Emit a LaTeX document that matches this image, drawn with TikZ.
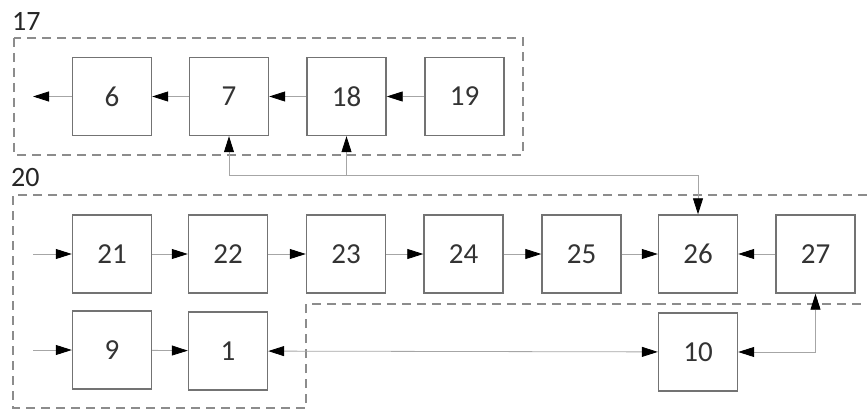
\documentclass[tikz,border=0pt]{standalone}
\usepackage{fontspec}
\setmainfont{Carlito}
\usetikzlibrary{arrows.meta}
\begin{document}
\begin{tikzpicture}[x=1pt,y=-1pt,
  >={Triangle[length=16pt,width=10pt,color=black]},
  blk/.style={draw=black!55, line width=1.4pt, minimum width=79pt, minimum height=78pt, inner sep=0pt, font=\fontsize{29}{29}\selectfont, text=black!80},
  conn/.style={draw=black!35, line width=0.8pt, ->},
  wire/.style={draw=black!35, line width=0.8pt},
  grp/.style={draw=black!45, line width=1.4pt, dash pattern=on 9pt off 6pt},
  lbl/.style={font=\fontsize{28}{28}\selectfont, text=black!85, anchor=west, inner sep=0pt}]
\useasboundingbox (0,0) rectangle (867,417);
% groups
\draw[grp] (14,38) rectangle (523,155);
\draw[grp] (867,195) -- (13,195) -- (13,408) -- (306,408) -- (306,304) -- (867,304);
\node[lbl] (l17) at (12,21) {17};
\node[lbl] (l20) at (11,178) {20};
% top row
\node[blk] (n6)  at (112,96.5) {6};
\node[blk] (n7)  at (229,96.5) {7};
\node[blk] (n18) at (346.5,96.5) {18};
\node[blk] (n19) at (464.5,96.5) {19};
% middle row
\node[blk] (n21) at (112,254) {21};
\node[blk] (n22) at (228,254) {22};
\node[blk] (n23) at (346,254) {23};
\node[blk] (n24) at (463.5,254) {24};
\node[blk] (n25) at (581.5,254) {25};
\node[blk] (n26) at (698,254) {26};
\node[blk] (n27) at (815.5,254) {27};
% bottom row
\node[blk] (n9)  at (112,350) {9};
\node[blk] (n1)  at (228,351) {1};
\node[blk] (n10) at (698,352) {10};
% free ends
\coordinate (o6) at (33,96.5);
\coordinate (i21) at (33,254);
\coordinate (i9) at (33,350);
\coordinate (j7) at (229,175);
\coordinate (j18) at (346.5,175);
\coordinate (j26) at (698,175);
% top chain
\draw[conn] (n19) -- (n18);
\draw[conn] (n18) -- (n7);
\draw[conn] (n7) -- (n6);
\draw[conn] (n6) -- (o6);
% middle chain
\draw[conn] (i21) -- (n21);
\draw[conn] (n21) -- (n22);
\draw[conn] (n22) -- (n23);
\draw[conn] (n23) -- (n24);
\draw[conn] (n24) -- (n25);
\draw[conn] (n25) -- (n26);
\draw[conn] (n27) -- (n26);
% bottom chain
\draw[conn] (i9) -- (n9);
\draw[conn] (n9) -- (n1);
\draw[conn,<->] (n1) -- (n10);
\draw[conn,<->] (n10) -| (n27);
% feedback
\draw[wire] (j7) -- (j26);
\draw[conn] (j7) -- (n7);
\draw[conn] (j18) -- (n18);
\draw[conn] (j26) -- (n26);
\end{tikzpicture}
\end{document}
